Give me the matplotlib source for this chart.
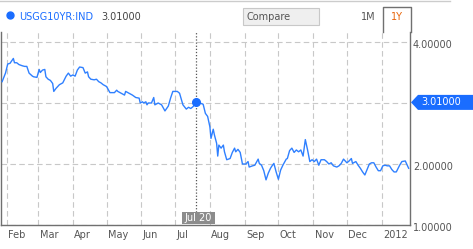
import datetime as dt
import matplotlib
matplotlib.use("Agg")
import matplotlib.pyplot as plt
import matplotlib.dates as mdates
import matplotlib.transforms as mtransforms
from matplotlib.patches import Rectangle, Polygon
from matplotlib.lines import Line2D

plt.rcParams['font.family'] = ['DejaVu Sans']

# ---- data ----
dates = [
    "2011-01-28", "2011-01-31", "2011-02-02", "2011-02-04", "2011-02-07", "2011-02-08",
    "2011-02-10", "2011-02-12", "2011-02-15", "2011-02-17", "2011-02-19", "2011-02-21",
    "2011-02-24", "2011-02-25", "2011-02-28", "2011-03-02", "2011-03-03", "2011-03-05",
    "2011-03-07", "2011-03-08", "2011-03-10", "2011-03-12", "2011-03-14", "2011-03-15",
    "2011-03-17", "2011-03-20", "2011-03-23", "2011-03-26", "2011-03-28", "2011-03-30",
    "2011-04-01", "2011-04-03", "2011-04-05", "2011-04-07", "2011-04-10", "2011-04-12",
    "2011-04-14", "2011-04-15", "2011-04-17", "2011-04-20", "2011-04-22", "2011-04-24",
    "2011-04-26", "2011-04-28", "2011-05-01", "2011-05-04", "2011-05-08", "2011-05-10",
    "2011-05-11", "2011-05-14", "2011-05-17", "2011-05-18", "2011-05-21", "2011-05-24",
    "2011-05-27", "2011-05-30", "2011-05-31", "2011-06-02", "2011-06-03", "2011-06-05",
    "2011-06-06", "2011-06-07", "2011-06-10", "2011-06-12", "2011-06-13", "2011-06-16",
    "2011-06-19", "2011-06-22", "2011-06-25", "2011-06-27", "2011-06-29", "2011-07-03",
    "2011-07-05", "2011-07-08", "2011-07-11", "2011-07-13", "2011-07-15", "2011-07-17",
    "2011-07-20", "2011-07-23", "2011-07-26", "2011-07-28", "2011-07-30", "2011-08-01",
    "2011-08-02", "2011-08-04", "2011-08-05", "2011-08-07", "2011-08-08", "2011-08-09",
    "2011-08-11", "2011-08-13", "2011-08-14", "2011-08-16", "2011-08-19", "2011-08-21",
    "2011-08-23", "2011-08-24", "2011-08-26", "2011-08-28", "2011-08-30", "2011-09-02",
    "2011-09-04", "2011-09-05", "2011-09-08", "2011-09-10", "2011-09-13", "2011-09-14",
    "2011-09-16", "2011-09-18", "2011-09-20", "2011-09-22", "2011-09-24", "2011-09-25",
    "2011-09-27", "2011-09-29", "2011-10-01", "2011-10-03", "2011-10-05", "2011-10-08",
    "2011-10-09", "2011-10-11", "2011-10-13", "2011-10-15", "2011-10-17", "2011-10-19",
    "2011-10-21", "2011-10-23", "2011-10-25", "2011-10-27", "2011-10-29", "2011-10-31",
    "2011-11-02", "2011-11-04", "2011-11-06", "2011-11-08", "2011-11-11", "2011-11-13",
    "2011-11-15", "2011-11-17", "2011-11-19", "2011-11-22", "2011-11-24", "2011-11-26",
    "2011-11-28", "2011-12-01", "2011-12-03", "2011-12-05", "2011-12-06", "2011-12-09",
    "2011-12-11", "2011-12-13", "2011-12-15", "2011-12-17", "2011-12-19", "2011-12-21",
    "2011-12-23", "2011-12-25", "2011-12-27", "2011-12-29", "2011-12-31", "2012-01-02",
    "2012-01-04", "2012-01-06", "2012-01-08", "2012-01-10", "2012-01-12", "2012-01-14",
    "2012-01-17", "2012-01-19", "2012-01-22", "2012-01-23", "2012-01-25",
]
yields = [
    3.35, 3.49, 3.64, 3.65, 3.73, 3.66,
    3.66, 3.63, 3.61, 3.60, 3.60, 3.49,
    3.44, 3.43, 3.42, 3.55, 3.50, 3.54,
    3.55, 3.43, 3.39, 3.37, 3.32, 3.19,
    3.24, 3.30, 3.33, 3.44, 3.49, 3.44,
    3.46, 3.44, 3.54, 3.59, 3.58, 3.49,
    3.51, 3.43, 3.39, 3.38, 3.39, 3.35,
    3.33, 3.30, 3.27, 3.17, 3.17, 3.21,
    3.19, 3.16, 3.13, 3.19, 3.16, 3.13,
    3.09, 3.08, 3.00, 3.02, 3.00, 3.02,
    2.97, 3.00, 3.00, 3.09, 2.97, 3.00,
    2.97, 2.87, 2.95, 3.08, 3.19, 3.19,
    3.16, 2.97, 2.90, 2.93, 2.91, 2.94,
    3.01, 3.00, 2.98, 2.83, 2.78, 2.61,
    2.42, 2.57, 2.48, 2.34, 2.13, 2.31,
    2.26, 2.31, 2.20, 2.07, 2.09, 2.19,
    2.26, 2.20, 2.24, 2.19, 2.00, 2.00,
    2.04, 1.95, 1.97, 1.98, 2.08, 2.01,
    1.98, 1.89, 1.74, 1.85, 1.93, 1.96,
    2.01, 1.87, 1.75, 1.90, 1.98, 2.08,
    2.09, 2.22, 2.26, 2.19, 2.23, 2.20,
    2.23, 2.13, 2.40, 2.23, 2.04, 2.07,
    2.04, 2.08, 1.98, 2.07, 2.07, 2.04,
    2.00, 2.02, 1.97, 1.95, 1.97, 2.01,
    2.08, 2.02, 2.05, 2.09, 2.01, 2.04,
    1.98, 1.93, 1.87, 1.82, 1.91, 2.00,
    2.02, 2.02, 1.95, 1.89, 1.89, 1.97,
    1.98, 1.97, 1.97, 1.91, 1.87, 1.87,
    1.98, 2.04, 2.05, 2.01, 1.93,
]
ticker_name = "USGG10YR:IND"
hover_date = "2011-07-20"
hover_value = 3.01
hover_label = "Jul 20"
y_ticks = [1.0, 2.0, 3.0, 4.0]
x_start = "2011-01-27"
x_end = "2012-01-26"

# ---- figure ----
W, H = 473, 249
fig = plt.figure(figsize=(W / 100, H / 100), dpi=100)

def fx(px):
    return px / W

def fy(py):
    return 1 - py / H

MARK_BLUE = "#1a6dff"
LINE_BLUE = "#2f80ff"
GREY_TXT = "#555555"
SPINE = "#707070"
GRID = "#c8c8c8"

ax_l, ax_r, ax_t, ax_b = 1, 410, 32, 225
ax = fig.add_axes([fx(ax_l), fy(ax_b), fx(ax_r - ax_l), fy(ax_t) - fy(ax_b)])

d = [dt.datetime.strptime(s, "%Y-%m-%d") for s in dates]
ax.plot(d, yields, color=LINE_BLUE, lw=1.0, zorder=3)
hd = dt.datetime.strptime(hover_date, "%Y-%m-%d")
ax.plot([hd], [hover_value], 'o', color=MARK_BLUE, ms=5.5, zorder=4)

x0 = dt.datetime.strptime(x_start, "%Y-%m-%d")
x1 = dt.datetime.strptime(x_end, "%Y-%m-%d") + dt.timedelta(hours=5)
ax.set_xlim(x0, x1)
ax.set_ylim(1.0, 1.0 + (ax_b - ax_t) / 61.0)

# grid / ticks
ax.xaxis.set_major_locator(mdates.MonthLocator())
ax.xaxis.set_major_formatter(
    matplotlib.ticker.FuncFormatter(
        lambda v, p: (mdates.num2date(v).strftime("%Y") if mdates.num2date(v).month == 1
                      else mdates.num2date(v).strftime("%b"))))
ax.set_yticks(y_ticks)
# the tick label at the hovered level is covered by the value flag
ax.yaxis.set_major_formatter(
    matplotlib.ticker.FuncFormatter(
        lambda v, p: "" if abs(v - hover_value) < 0.1 else f"{v:.5f}"))
ax.grid(True, color=GRID, lw=0.8, linestyle=(0, (5, 3)))
ax.set_axisbelow(True)

ax.tick_params(axis='x', length=0, pad=3.5, labelsize=7, labelcolor=GREY_TXT)
ax.tick_params(axis='y', left=False, labelleft=False, right=False, labelright=True,
               length=0, pad=2, labelsize=7, labelcolor=GREY_TXT)
for lab in ax.get_xticklabels():
    lab.set_horizontalalignment('left')
    lab.set_transform(lab.get_transform() +
                      mtransforms.ScaledTranslation(1.5 / 100, 0, fig.dpi_scale_trans))
for lab in ax.get_yticklabels():
    lab.set_transform(lab.get_transform() +
                      mtransforms.ScaledTranslation(0, -1.5 / 100, fig.dpi_scale_trans))

for side in ['left', 'right', 'bottom']:
    ax.spines[side].set_color(SPINE)
    ax.spines[side].set_linewidth(1.0)
ax.spines['top'].set_visible(False)

# hover dotted line
ax.axvline(hd, ymin=(ax_b - 212) / (ax_b - ax_t), ymax=1, color="#555555",
           lw=0.9, linestyle=(0, (1, 1.5)), zorder=2)

# ---- header ----
fig.add_artist(Line2D([0, fx(450)], [fy(1.5), fy(1.5)], color="#cccccc", lw=1))
fig.add_artist(Line2D([fx(10)], [fy(15.5)], marker='o', ms=5, color=MARK_BLUE, lw=0))
fig.text(fx(19), fy(17), ticker_name, color=MARK_BLUE, fontsize=7,
         ha='left', va='center')
fig.text(fx(101), fy(17), f"{hover_value:.5f}", color="#444444", fontsize=7,
         ha='left', va='center')
fig.add_artist(Rectangle((fx(243), fy(25)), fx(76), fy(8) - fy(25),
                         facecolor="#efefef", edgecolor="#c8c8c8", lw=0.8,
                         transform=fig.transFigure))
fig.text(fx(246), fy(17), "Compare", color=GREY_TXT, fontsize=7, ha='left', va='center')
fig.text(fx(368), fy(16.5), "1M", color=GREY_TXT, fontsize=7, ha='center', va='center')
fig.add_artist(Line2D([fx(383), fx(383), fx(410.5), fx(410.5)],
                      [fy(32), fy(7), fy(7), fy(32)], color=SPINE, lw=1.0))
fig.text(fx(397), fy(17), "1Y", color="#e8650a", fontsize=7, ha='center', va='center')

# ---- right value flag ----
yv = 225 - (hover_value - 1.0) * 61
fig.add_artist(Polygon([(fx(411), fy(yv)), (fx(418), fy(yv - 7.5)), (fx(473), fy(yv - 7.5)),
                        (fx(473), fy(yv + 7.5)), (fx(418), fy(yv + 7.5))],
                       closed=True, facecolor=MARK_BLUE, edgecolor='none',
                       transform=fig.transFigure, zorder=10))
fig.text(fx(421), fy(yv), f"{hover_value:.5f}", color="white", fontsize=7,
         ha='left', va='center', zorder=11)

# ---- hover date label ----
fig.add_artist(Rectangle((fx(182), fy(224)), fx(33), fy(212) - fy(224),
                         facecolor="#8c8c8c", edgecolor='none',
                         transform=fig.transFigure, zorder=10))
fig.text(fx(198.5), fy(218), hover_label, color="white", fontsize=7,
         ha='center', va='center', zorder=11)

fig.savefig("out.png", dpi=100)
